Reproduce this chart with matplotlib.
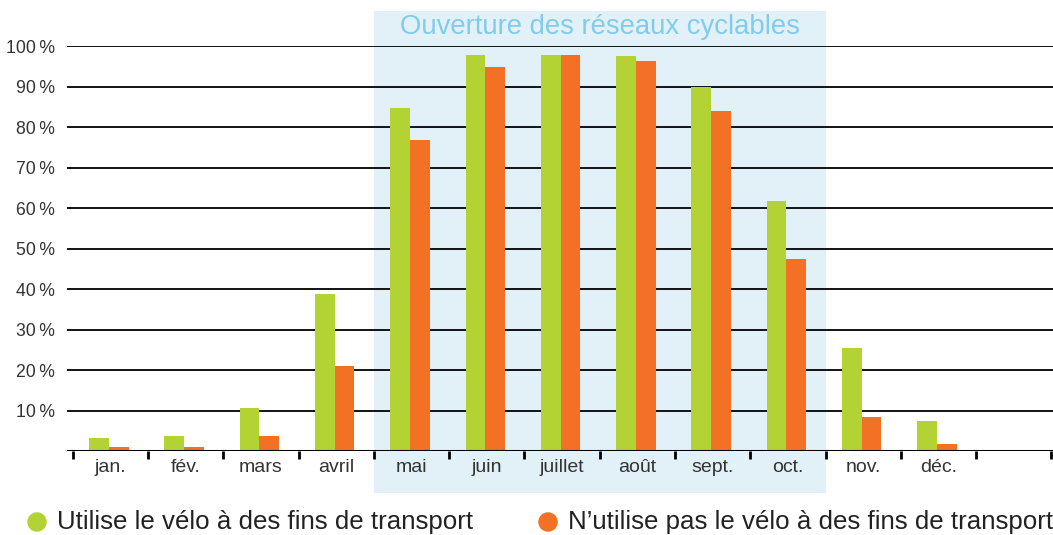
import matplotlib
matplotlib.use("Agg")
import matplotlib.pyplot as plt
from matplotlib.patches import Rectangle, Ellipse
import numpy as np

months = ["jan.", "fév.", "mars", "avril", "mai", "juin", "juillet", "août", "sept.", "oct.", "nov.", "déc."]
velo_transport = [3.2, 3.7, 10.6, 38.8, 84.7, 97.8, 97.8, 97.5, 90.0, 61.7, 25.4, 7.4]
non_velo_transport = [1.0, 1.0, 3.7, 21.0, 76.8, 95.0, 97.8, 96.3, 84.0, 47.4, 8.4, 1.7]
y_ticks = [10, 20, 30, 40, 50, 60, 70, 80, 90, 100]
y_labels = [f"{v}\u2009%" for v in y_ticks]
legend_labels = ["Utilise le vélo à des fins de transport",
                 "N’utilise pas le vélo à des fins de transport"]
shade_title = "Ouverture des réseaux cyclables"

GREEN = "#B3D334"
ORANGE = "#F37124"
SHADE = "#E2F1F7"
TITLE_C = "#80CDEB"
TXT = "#333333"

plt.rcParams['font.family'] = ['Liberation Sans', 'DejaVu Sans']

W, H = 1053, 535
fig = plt.figure(figsize=(W / 100, H / 100), dpi=100)
base_y = 451.3
top_y = 46.3
left_x = 67
ax = fig.add_axes([left_x / W, (H - base_y) / H, (W - left_x) / W, (base_y - top_y) / H])
ax.set_ylim(0, 100)
ax.set_xlim(-0.576, 12.52)
for s in ax.spines.values():
    s.set_visible(False)

pxu = (base_y - top_y) / 100.0  # px per percent

# shaded region mai..oct
ax.add_patch(Rectangle((3.5, -(492.7 - base_y) / pxu), 6.0,
                       (492.7 - 11) / pxu, facecolor=SHADE, edgecolor="none",
                       clip_on=False, zorder=0))
ax.text(6.5, 100 + (46.3 - 27) / pxu, shade_title, ha="center", va="center",
        fontsize=19.8, color=TITLE_C, zorder=1, clip_on=False)

# gridlines
for v in y_ticks:
    ax.axhline(v, color="black", lw=1.3, zorder=1)
ax.axhline(0, color="black", lw=2.2, zorder=4)

x = np.arange(len(months))
bw = 0.262
off = -0.02
ax.bar(x + off - bw / 2, velo_transport, bw, color=GREEN, zorder=3)
ax.bar(x + off + bw / 2, non_velo_transport, bw, color=ORANGE, zorder=3)

# ticks at boundaries
ax.set_xticks(np.arange(-0.5, 12.6, 1.0))
ax.set_xticklabels([])
ax.tick_params(axis="x", direction="out", length=6, width=2, color="black")
for i, m in enumerate(months):
    ax.text(i, -(467 - base_y) / pxu, m, ha="center", va="center",
            fontsize=14, color=TXT, clip_on=False)

ax.set_yticks(y_ticks)
ax.set_yticklabels(y_labels, fontsize=12.7, color=TXT)
ax.tick_params(axis="y", length=0, pad=9)

# legend
fig.patches.append(Ellipse((37 / W, (H - 522) / H), 19.5 / W, 19.5 / H, transform=fig.transFigure,
                           facecolor=GREEN, edgecolor="none"))
fig.patches.append(Ellipse((548 / W, (H - 522) / H), 19.5 / W, 19.5 / H, transform=fig.transFigure,
                           facecolor=ORANGE, edgecolor="none"))
fig.text(57 / W, (H - 522) / H, legend_labels[0], ha="left", va="center",
         fontsize=18.6, color="#222222")
fig.text(568 / W, (H - 522) / H, legend_labels[1], ha="left", va="center",
         fontsize=18.6, color="#222222")

fig.savefig("out.png", dpi=100)
